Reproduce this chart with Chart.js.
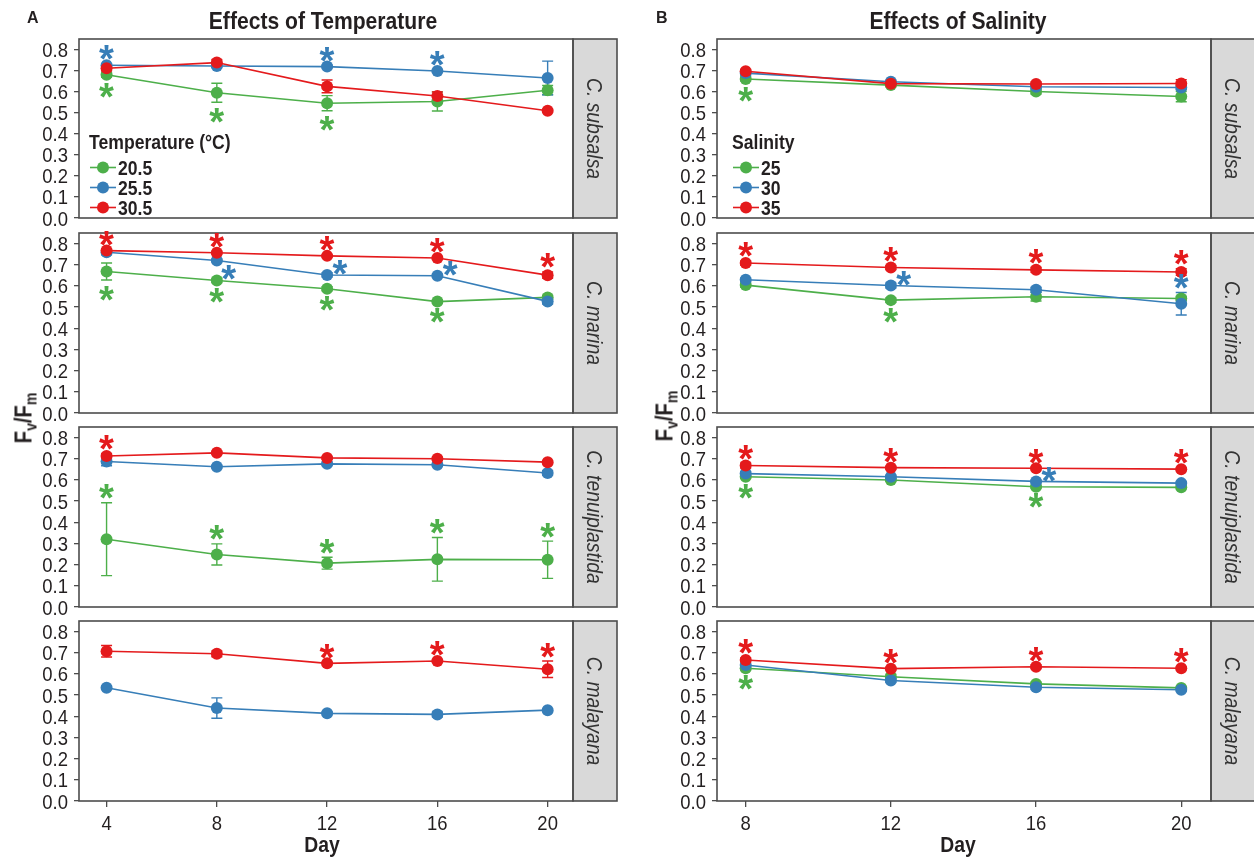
<!DOCTYPE html>
<html>
<head>
<meta charset="utf-8">
<title>Fv/Fm under temperature and salinity treatments</title>
<script src="https://cdn.jsdelivr.net/npm/chart.js@4.4.1/dist/chart.umd.min.js"></script>
<style>
  html, body { margin: 0; padding: 0; background: #fff; }
  #fig { position: relative; width: 1254px; height: 859px; overflow: hidden; background: #fff; }
  #fig canvas { position: absolute; }
  .lbl { position: absolute; color: #231f20; white-space: nowrap; }
  .lbl .sb { position: relative; top: 5px; font-size: 16px; }
</style>
</head>
<body>
<div id="fig"></div>
<script>
// ---------------------------------------------------------------------------
// Data
// ---------------------------------------------------------------------------
const tempDays = [4, 8, 12, 16, 20];
const salDays = [8, 12, 16, 20];
const yTickValues = [0, 0.1, 0.2, 0.3, 0.4, 0.5, 0.6, 0.7, 0.8];
const speciesNames = ['C. subsalsa', 'C. marina', 'C. tenuiplastida', 'C. malayana'];
const tempLevels = ['20.5', '25.5', '30.5'];
const salLevels = ['25', '30', '35'];
const seriesColors = ['#4daf4a', '#377eb8', '#e41a1c'];

// Temperature experiment: rows are 20.5, 25.5, 30.5 °C; columns follow tempDays.
const subsalsaTempMean = [
  [0.680, 0.595, 0.545, 0.553, 0.607],
  [0.725, 0.722, 0.719, 0.698, 0.665],
  [0.711, 0.738, 0.625, 0.579, 0.509]
];
const subsalsaTempSE = [
  [0.012, 0.045, 0.036, 0.045, 0.022],
  [0.008, 0.008, 0.006, 0.006, 0.080],
  [0.012, 0.014, 0.030, 0.020, 0.006]
];
// significance marks: [level index, day index, placement]
const subsalsaTempSig = [[1, 0, 'up'], [1, 2, 'up'], [1, 3, 'up'], [0, 0, 'down'], [0, 1, 'down'], [0, 2, 'down']];

const marinaTempMean = [
  [0.668, 0.626, 0.587, 0.526, 0.546],
  [0.759, 0.720, 0.652, 0.648, 0.527],
  [0.767, 0.757, 0.742, 0.732, 0.651]
];
const marinaTempSE = [
  [0.040, 0.010, 0.010, 0.006, 0.010],
  [0.012, 0.006, 0.010, 0.006, 0.012],
  [0.006, 0.006, 0.006, 0.006, 0.015]
];
const marinaTempSig = [[2, 0, 'up'], [2, 1, 'up'], [2, 2, 'up'], [2, 3, 'up'], [2, 4, 'up'],
  [0, 0, 'down'], [0, 1, 'down'], [0, 2, 'down'], [0, 3, 'down'],
  [1, 1, 'rightdown'], [1, 2, 'right'], [1, 3, 'right']];

const tenuiTempMean = [
  [0.320, 0.248, 0.207, 0.225, 0.223],
  [0.687, 0.662, 0.676, 0.672, 0.633],
  [0.713, 0.728, 0.704, 0.700, 0.684]
];
const tenuiTempSE = [
  [0.172, 0.050, 0.028, 0.103, 0.088],
  [0.020, 0.006, 0.008, 0.006, 0.012],
  [0.012, 0.006, 0.006, 0.006, 0.006]
];
const tenuiTempSig = [[2, 0, 'up'], [0, 0, 'up'], [0, 1, 'up'], [0, 2, 'up'], [0, 3, 'up'], [0, 4, 'up']];

const malayanaTempMean = [
  null,
  [0.535, 0.439, 0.414, 0.409, 0.429],
  [0.707, 0.695, 0.650, 0.661, 0.622]
];
const malayanaTempSE = [
  null,
  [0.006, 0.048, 0.006, 0.012, 0.006],
  [0.027, 0.014, 0.006, 0.006, 0.039]
];
const malayanaTempSig = [[2, 2, 'up'], [2, 3, 'up'], [2, 4, 'up']];

// Salinity experiment: rows are salinity 25, 30, 35; columns follow salDays.
const subsalsaSalMean = [
  [0.660, 0.631, 0.601, 0.577],
  [0.688, 0.647, 0.623, 0.620],
  [0.697, 0.638, 0.636, 0.639]
];
const subsalsaSalSE = [
  [0.010, 0.008, 0.012, 0.025],
  [0.012, 0.006, 0.010, 0.010],
  [0.008, 0.008, 0.010, 0.018]
];
const subsalsaSalSig = [[0, 0, 'down']];

const marinaSalMean = [
  [0.604, 0.533, 0.549, 0.541],
  [0.629, 0.602, 0.582, 0.516],
  [0.708, 0.687, 0.676, 0.666]
];
const marinaSalSE = [
  [0.010, 0.010, 0.020, 0.010],
  [0.008, 0.012, 0.012, 0.053],
  [0.010, 0.010, 0.012, 0.016]
];
const marinaSalSig = [[2, 0, 'up'], [2, 1, 'up'], [2, 2, 'up'], [2, 3, 'up'], [0, 1, 'down'], [1, 1, 'right'], [1, 3, 'up']];

const tenuiSalMean = [
  [0.615, 0.600, 0.568, 0.565],
  [0.630, 0.615, 0.593, 0.585],
  [0.668, 0.658, 0.655, 0.651]
];
const tenuiSalSE = [
  [0.006, 0.006, 0.006, 0.006],
  [0.010, 0.006, 0.006, 0.008],
  [0.012, 0.006, 0.006, 0.006]
];
const tenuiSalSig = [[2, 0, 'up'], [2, 1, 'up'], [2, 2, 'up'], [2, 3, 'up'], [0, 0, 'down'], [0, 2, 'down'], [1, 2, 'right']];

const malayanaSalMean = [
  [0.627, 0.587, 0.553, 0.534],
  [0.642, 0.569, 0.537, 0.525],
  [0.666, 0.625, 0.634, 0.627]
];
const malayanaSalSE = [
  [0.008, 0.012, 0.008, 0.006],
  [0.020, 0.008, 0.008, 0.006],
  [0.010, 0.006, 0.008, 0.006]
];
const malayanaSalSig = [[2, 0, 'up'], [2, 1, 'up'], [2, 2, 'up'], [2, 3, 'up'], [0, 0, 'down']];

// ---------------------------------------------------------------------------
// Layout and style
// ---------------------------------------------------------------------------
const SANS = "'Liberation Sans', Arial, sans-serif";
const SQUEEZE = 0.88;           // horizontal compression for the condensed lettering
const TEXT = '#231f20';
const AXIS = '#4d4d4d';
const STRIP_FILL = '#d9d9d9';
const STRIP_W = 44;
const CAP = 5.5;
const STAR_H = 14.5;

const COL_LAYOUT = [
  { canvasLeft: 0, canvasWidth: 627, plotLeft: 79, plotRight: 573, xMin: 3, xMax: 20.92, legendOffset: 10 },
  { canvasLeft: 630, canvasWidth: 624, plotLeft: 717, plotRight: 1211, xMin: 7.21, xMax: 20.82, legendOffset: 15 }
];
const ROW_TOP = [39, 233, 427, 621];
const ROW_BOTTOM = [218, 413, 607, 801];

const fig = document.getElementById('fig');

// condensed text on a canvas: regular face squeezed horizontally
function narrowText(ctx, text, x, y, font, align, color) {
  ctx.save();
  ctx.font = font;
  ctx.fillStyle = color;
  ctx.textAlign = align;
  ctx.textBaseline = 'alphabetic';
  ctx.translate(x, y);
  ctx.scale(SQUEEZE, 1);
  ctx.fillText(text, 0, 0);
  ctx.restore();
}

// Star glyph size: scale the font so the asterisk glyph is STAR_H pixels tall.
let starFontSize = 40;
(function () {
  const c = document.createElement('canvas').getContext('2d');
  c.font = 'bold 100px ' + SANS;
  const m = c.measureText('*');
  const h = m.actualBoundingBoxAscent + m.actualBoundingBoxDescent;
  if (h > 0) starFontSize = 100 * STAR_H / h;
})();

function drawStar(ctx, cx, cy, color) {
  ctx.save();
  ctx.font = 'bold ' + starFontSize.toFixed(2) + 'px ' + SANS;
  ctx.fillStyle = color;
  ctx.textAlign = 'left';
  ctx.textBaseline = 'alphabetic';
  const m = ctx.measureText('*');
  const x = cx - (m.actualBoundingBoxRight - m.actualBoundingBoxLeft) / 2;
  const y = cy - (m.actualBoundingBoxDescent - m.actualBoundingBoxAscent) / 2;
  ctx.fillText('*', x, y);
  ctx.restore();
}

function makeDecor(info) {
  return {
    id: 'panelDecor',
    // error bars sit underneath the lines and markers
    beforeDatasetsDraw(chart) {
      const { ctx } = chart;
      const xs = chart.scales.x, ys = chart.scales.y;
      chart.data.datasets.forEach(ds => {
        ctx.save();
        ctx.strokeStyle = ds.borderColor;
        ctx.lineWidth = 1.4;
        ds.data.forEach((p, j) => {
          const e = ds.err[j];
          const px = xs.getPixelForValue(p.x);
          const y1 = ys.getPixelForValue(p.y + e);
          const y2 = ys.getPixelForValue(p.y - e);
          ctx.beginPath();
          ctx.moveTo(px, y1); ctx.lineTo(px, y2);
          ctx.moveTo(px - CAP, y1); ctx.lineTo(px + CAP, y1);
          ctx.moveTo(px - CAP, y2); ctx.lineTo(px + CAP, y2);
          ctx.stroke();
        });
        ctx.restore();
      });
    },
    afterDatasetsDraw(chart) {
      const { ctx, chartArea: a } = chart;
      const xs = chart.scales.x, ys = chart.scales.y;

      // tick labels, placed from the scales' own ticks
      ys.ticks.forEach(t => {
        const py = ys.getPixelForValue(t.value);
        narrowText(ctx, Number(t.value).toFixed(1), a.left - 11, py + 7.5, '21px ' + SANS, 'right', TEXT);
      });
      if (info.showX) {
        xs.ticks.forEach(t => {
          const px = xs.getPixelForValue(t.value);
          narrowText(ctx, String(t.value), px, a.bottom + 28.5, '21px ' + SANS, 'center', TEXT);
        });
      }

      // species strip on the right
      ctx.save();
      ctx.fillStyle = STRIP_FILL;
      ctx.fillRect(a.right, a.top, STRIP_W, a.bottom - a.top);
      ctx.strokeStyle = AXIS;
      ctx.lineWidth = 1.6;
      ctx.strokeRect(a.right, a.top, STRIP_W, a.bottom - a.top);
      ctx.translate(a.right + STRIP_W / 2, (a.top + a.bottom) / 2);
      ctx.rotate(Math.PI / 2);
      ctx.font = 'italic 22px ' + SANS;
      ctx.fillStyle = '#333';
      ctx.textAlign = 'center';
      ctx.textBaseline = 'alphabetic';
      ctx.scale(SQUEEZE, 1);
      ctx.fillText(info.species, 0, 8);
      ctx.restore();

      // panel frame
      ctx.save();
      ctx.strokeStyle = AXIS;
      ctx.lineWidth = 1.6;
      ctx.strokeRect(a.left, a.top, a.right - a.left, a.bottom - a.top);
      ctx.restore();

      // significance asterisks
      info.sig.forEach(([si, j, where]) => {
        const ds = chart.data.datasets.find(d => d.seriesIndex === si);
        if (!ds) return;
        const p = ds.data[j], e = ds.err[j];
        const px = xs.getPixelForValue(p.x);
        let cx = px, cy;
        if (where === 'up') cy = ys.getPixelForValue(p.y + e) - 11;
        else if (where === 'down') cy = ys.getPixelForValue(p.y - e) + 13;
        else if (where === 'right') { cx = px + 13; cy = ys.getPixelForValue(p.y) - 7; }
        else { cx = px + 12; cy = ys.getPixelForValue(p.y) + 12; }
        drawStar(ctx, cx, cy, ds.borderColor);
      });

      // legend inside the top panel
      if (info.legend) {
        const lg = info.legend;
        const x0 = a.left + lg.offset;
        narrowText(ctx, lg.title, x0, a.top + 110, 'bold 20px ' + SANS, 'left', TEXT);
        lg.labels.forEach((lab, i) => {
          const base = a.top + 136 + i * 20;
          const cy = base - 7.5;
          ctx.save();
          ctx.strokeStyle = seriesColors[i];
          ctx.lineWidth = 1.6;
          ctx.beginPath();
          ctx.moveTo(x0 + 1, cy); ctx.lineTo(x0 + 27, cy);
          ctx.stroke();
          ctx.fillStyle = seriesColors[i];
          ctx.beginPath();
          ctx.arc(x0 + 14, cy, 6, 0, Math.PI * 2);
          ctx.fill();
          ctx.restore();
          narrowText(ctx, lab, x0 + 29, base, 'bold 20px ' + SANS, 'left', TEXT);
        });
      }
    }
  };
}

function makePanel(col, row, days, mean, se, sig, levels, legendTitle) {
  const L = COL_LAYOUT[col];
  const top = ROW_TOP[row], bottom = ROW_BOTTOM[row];
  const isBottom = row === ROW_TOP.length - 1;
  const padT = 20, extraB = isBottom ? 40 : 20;
  const w = L.canvasWidth, h = (bottom - top) + padT + extraB;

  const canvas = document.createElement('canvas');
  canvas.width = w; canvas.height = h;
  canvas.style.left = L.canvasLeft + 'px';
  canvas.style.top = (top - padT) + 'px';
  canvas.style.width = w + 'px';
  canvas.style.height = h + 'px';
  fig.appendChild(canvas);

  const datasets = [];
  mean.forEach((vals, i) => {
    if (!vals) return;
    datasets.push({
      label: levels[i],
      seriesIndex: i,
      data: days.map((d, j) => ({ x: d, y: vals[j] })),
      err: se[i],
      borderColor: seriesColors[i],
      backgroundColor: seriesColors[i],
      pointBackgroundColor: seriesColors[i],
      pointBorderWidth: 0,
      pointRadius: 6,
      pointHoverRadius: 6,
      borderWidth: 1.6,
      tension: 0,
      order: 3 - i
    });
  });

  new Chart(canvas, {
    type: 'line',
    data: { datasets },
    options: {
      responsive: false,
      animation: false,
      devicePixelRatio: 1,
      events: [],
      layout: {
        padding: { top: padT, left: 0, right: w - (L.plotRight - L.canvasLeft), bottom: isBottom ? 0 : extraB }
      },
      plugins: { legend: { display: false }, tooltip: { enabled: false } },
      scales: {
        x: {
          type: 'linear', position: 'bottom', min: L.xMin, max: L.xMax,
          afterBuildTicks: s => { s.ticks = days.map(v => ({ value: v })); },
          afterFit: s => { s.height = isBottom ? extraB : 0; },
          grid: { display: isBottom, drawOnChartArea: false, drawTicks: true, tickLength: 6, color: AXIS, lineWidth: 1.3 },
          border: { display: false },
          ticks: { display: false }
        },
        y: {
          min: 0, max: 0.85,
          afterBuildTicks: s => { s.ticks = yTickValues.map(v => ({ value: v })); },
          afterFit: s => { s.width = L.plotLeft - L.canvasLeft; },
          grid: { drawOnChartArea: false, drawTicks: true, tickLength: 5, color: AXIS, lineWidth: 1.3 },
          border: { display: false },
          ticks: { display: false }
        }
      }
    },
    plugins: [makeDecor({
      species: speciesNames[row],
      sig,
      showX: isBottom,
      legend: row === 0 ? { title: legendTitle, labels: levels, offset: L.legendOffset } : null
    })]
  });
}

// temperature column
makePanel(0, 0, tempDays, subsalsaTempMean, subsalsaTempSE, subsalsaTempSig, tempLevels, 'Temperature (°C)');
makePanel(0, 1, tempDays, marinaTempMean, marinaTempSE, marinaTempSig, tempLevels);
makePanel(0, 2, tempDays, tenuiTempMean, tenuiTempSE, tenuiTempSig, tempLevels);
makePanel(0, 3, tempDays, malayanaTempMean, malayanaTempSE, malayanaTempSig, tempLevels);
// salinity column
makePanel(1, 0, salDays, subsalsaSalMean, subsalsaSalSE, subsalsaSalSig, salLevels, 'Salinity');
makePanel(1, 1, salDays, marinaSalMean, marinaSalSE, marinaSalSig, salLevels);
makePanel(1, 2, salDays, tenuiSalMean, tenuiSalSE, tenuiSalSig, salLevels);
makePanel(1, 3, salDays, malayanaSalMean, malayanaSalSE, malayanaSalSig, salLevels);

// ---------------------------------------------------------------------------
// Figure-level text
// ---------------------------------------------------------------------------
function addText(html, x, baseline, size, align, squeeze) {
  const d = document.createElement('div');
  d.className = 'lbl';
  d.style.font = 'bold ' + size + 'px ' + SANS;
  d.style.lineHeight = size + 'px';
  d.style.top = (baseline - 0.8465 * size) + 'px';
  d.style.left = x + 'px';
  const sx = squeeze ? ' scaleX(' + SQUEEZE + ')' : '';
  d.style.transformOrigin = '0 0';
  d.style.transform = (align === 'center' ? 'scaleX(1)' + sx + ' translateX(-50%)' : 'scaleX(1)' + sx);
  d.innerHTML = html;
  fig.appendChild(d);
  return d;
}
function addVertical(html, cx, cy, size) {
  const d = document.createElement('div');
  d.className = 'lbl';
  d.style.font = 'bold ' + size + 'px ' + SANS;
  d.style.lineHeight = size + 'px';
  d.style.left = cx + 'px';
  d.style.top = cy + 'px';
  d.style.transform = 'translate(-50%, -50%) rotate(-90deg) scaleX(' + SQUEEZE + ')';
  d.innerHTML = html;
  fig.appendChild(d);
}

addText('A', 27, 23.5, 16, 'left', false);
addText('B', 656, 23.5, 16, 'left', false);
addText('Effects of Temperature', 322.5, 29.5, 24, 'center', true);
addText('Effects of Salinity', 957.5, 29.5, 24, 'center', true);
addText('Day', 322, 852.5, 22, 'center', true);
addText('Day', 958, 852.5, 22, 'center', true);
addVertical('F<span class="sb">v</span>/F<span class="sb">m</span>', 25, 418, 23);
addVertical('F<span class="sb">v</span>/F<span class="sb">m</span>', 666, 416, 23);
</script>
</body>
</html>
